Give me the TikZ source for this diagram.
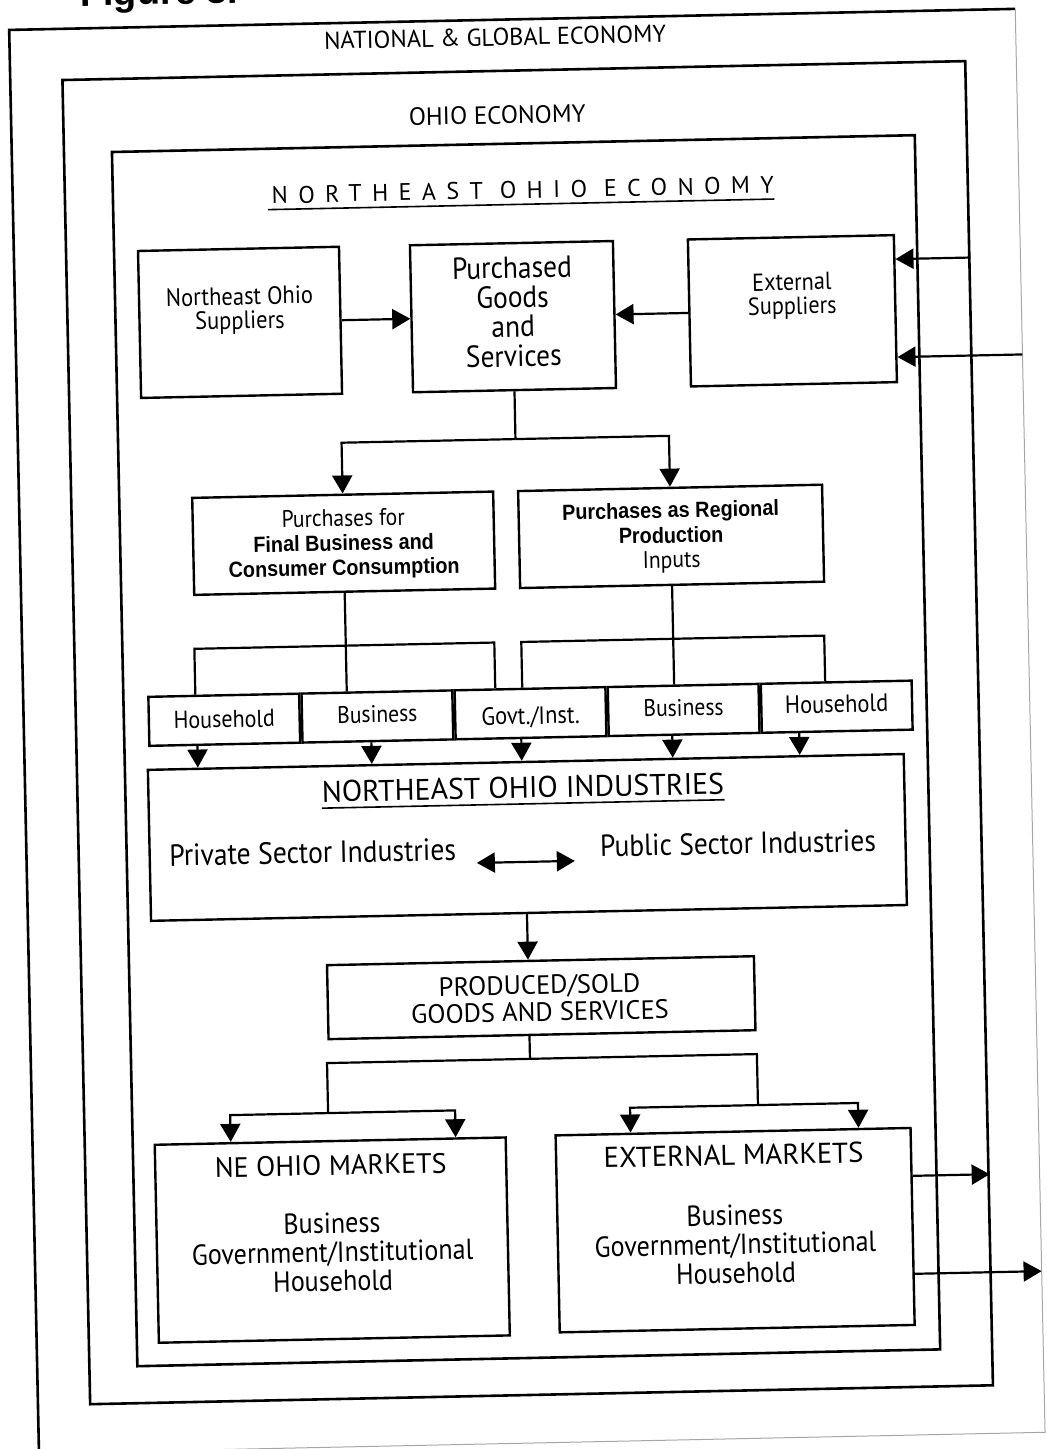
\documentclass[tikz,border=0pt]{standalone}
\usepackage{fontspec}
\usetikzlibrary{arrows.meta,calc}
\newfontfamily\hum{PT Sans}[FakeStretch=0.9]
\newfontfamily\humw{PT Sans}
\newfontfamily\humls{PT Sans}[LetterSpace=43.5]
\newfontfamily\grot{Liberation Sans}[FakeStretch=0.9]
\newfontfamily\arial{Liberation Sans}
\newcommand\fs[2]{\fontsize{#1}{#2}\selectfont}
\begin{document}
\begin{tikzpicture}[x=1pt,y=-1pt,
  frame/.style={line width=2.6pt},
  faint/.style={line width=1pt,black!35},
  box/.style={draw,line width=2.4pt,inner sep=0pt},
  cell/.style={draw,line width=2.4pt,inner sep=0pt,minimum width=150.8pt,minimum height=49pt},
  lbl/.style={inner sep=0pt,align=center,anchor=base},
  link/.style={line width=2.2pt},
  arr/.style={link,-{Triangle[length=18pt,width=20pt]}},
  darr/.style={link,{Triangle[length=18pt,width=20pt]}-{Triangle[length=18pt,width=20pt]}},
  uline/.style={line width=1.6pt}]
\clip (0,0) rectangle (1047,1449);
\begin{scope}[rotate around={1.2:(523,724)},transform shape]

% page heading
\node[anchor=base west,inner sep=0pt,font=\arial\bfseries\fs{38}{40}] (fig) at (95,-3) {Figure 3.};

% nested economy frames
\node[minimum width=1006pt,minimum height=1423.5pt,inner sep=0pt] (natl) at (527,731.25) {};
\draw[frame] (natl.south west) -- (natl.north west) -- (natl.north east);
\draw[faint] (natl.north east) -- (natl.south east) -- (natl.south west);
\node[box,line width=2.6pt,minimum width=903pt,minimum height=1324.5pt] (ohio) at (527.5,732.75) {};
\node[box,line width=2.6pt,minimum width=803pt,minimum height=1214.5pt] (neo) at (525.5,750.75) {};

\node[lbl,font=\humw\fs{24.4}{26}] (natlT) at (509.4,45.3) {NATIONAL \& GLOBAL ECONOMY};
\node[lbl,font=\humw\fs{25}{26}] (ohioT) at (510,123.4) {OHIO ECONOMY};
\node[lbl,font=\humls\fs{24}{26}] (neoT) at (534,198.4) {NORTHEAST OHIO ECONOMY};
\draw[uline] ($(neoT.base west)+(-4,6)$) -- ($(neoT.base east)+(0,6)$);

% supply side
\node[box,minimum width=201pt,minimum height=147pt] (nesup) at (248.5,316.5) {};
\node[box,minimum width=203pt,minimum height=147pt] (purch) at (521.5,316.5) {};
\node[box,minimum width=206pt,minimum height=147pt] (extsup) at (801,316.5) {};
\node[lbl,font=\hum\fs{25}{24}] (nesupT) at (248.5,323) {Northeast Ohio\\Suppliers};
\node[lbl,font=\hum\fs{30.5}{29.5}] (purchT) at (521.5,366.5) {Purchased\\Goods\\and\\Services};
\node[lbl,font=\hum\fs{24.7}{24}] (extsupT) at (801,320) {External\\Suppliers};

\draw[arr] (nesup.east) -- (purch.west);
\draw[arr] (extsup.west) -- (purch.west -| purch.east);
\coordinate (inA) at (ohio.east |- 0,267);
\coordinate (inB) at (natl.east |- 0,365);
\draw[arr] (inA) -- (extsup.east |- inA);
\draw[arr] (inB) -- (extsup.east |- inB);

% split of purchases
\node[box,minimum width=301pt,minimum height=97pt] (final) at (347.5,539.5) {};
\node[box,minimum width=304pt,minimum height=97pt] (regional) at (675,539.5) {};
\coordinate (splitA) at (purch.south |- 0,439);
\draw[link] (purch.south) -- (splitA);
\draw[arr] (splitA) -| (final.north);
\draw[arr] (splitA) -| (regional.north);
\node[lbl,font=\hum\fs{24}{24.5}] (finalT) at (347.5,571.5)
  {Purchases for\\{\grot\bfseries\fs{22}{24.5}Final Business and}\\{\grot\bfseries\fs{22}{24.5}Consumer Consumption}};
\node[lbl,font=\grot\bfseries\fs{22}{25}] (regionalT) at (675,571)
  {Purchases as Regional\\Production\\{\hum\mdseries\fs{24}{25}Inputs}};

% purchasing sectors
\node[cell] (c1) at (224.4,713.5) {};
\node[cell,anchor=west] (c2) at (c1.east) {};
\node[cell,anchor=west] (c3) at (c2.east) {};
\node[cell,anchor=west] (c4) at (c3.east) {};
\node[cell,anchor=west] (c5) at (c4.east) {};
\node[lbl,font=\hum\fs{24.5}{25}] (c1T) at ($(c1.center)+(0,8)$) {Household};
\node[lbl,font=\hum\fs{24}{25}] (c2T) at ($(c2.center)+(0,6)$) {Business};
\node[lbl,font=\hum\fs{25}{25}] (c3T) at ($(c3.center)+(0,11)$) {Govt./Inst.};
\node[lbl,font=\hum\fs{24}{25}] (c4T) at ($(c4.center)+(0,6)$) {Business};
\node[lbl,font=\hum\fs{25}{25}] (c5T) at ($(c5.center)+(0,6)$) {Household};

\coordinate (bl) at (final.south |- 0,642);
\coordinate (br) at (regional.south |- 0,642);
\draw[link] (final.south) -- (final.south |- c2.north);
\draw[link] (c1.north -| 196,0) |- (bl) -| (c3.north -| 496,0);
\draw[link] (regional.south) -- (regional.south |- c4.north);
\draw[link] (c3.north -| 523,0) |- (br) -| (c5.north -| 826,0);

% industries
\node[box,minimum width=756pt,minimum height=151pt] (ind) at (525,837.5) {};
\foreach \xa/\cc in {197/c1,371/c2,521/c3,672/c4,799/c5}
  \draw[arr] (\cc.south -| \xa,0) -- (ind.north -| \xa,0);
\node[lbl,font=\humw\fs{29.8}{31}] (indT) at (521.6,798) {NORTHEAST OHIO INDUSTRIES};
\draw[uline] ($(indT.base west)+(0,6)$) -- ($(indT.base east)+(0,6)$);
\node[lbl,font=\hum\fs{30.7}{31}] (priv) at (310,858.7) {Private Sector Industries};
\node[lbl,font=\hum\fs{30.5}{31}] (publ) at (735.5,858.5) {Public Sector Industries};
\coordinate (dA) at (474,862);
\coordinate (dB) at (572,862);
\draw[darr] (dA) -- (dB);

% output
\node[box,minimum width=427pt,minimum height=74pt] (prod) at (535.5,998) {};
\draw[arr] (ind.south -| 523,0) -- (prod.north -| 523,0);
\node[lbl,font=\humw\fs{26.5}{27}] (prodT) at (534,1021.5) {PRODUCED/SOLD\\GOODS AND SERVICES};

\node[box,minimum width=351pt,minimum height=198pt] (nemk) at (321.5,1236) {};
\node[box,minimum width=355pt,minimum height=197pt] (extmk) at (724.5,1234.5) {};
\coordinate (splitB) at (prod.south -| 523,0);
\coordinate (busB) at (523,1059);
\draw[link] (splitB) -- (busB);
\coordinate (lk) at (320,1109);
\coordinate (rk) at (750,1110);
\draw[link] (busB) -| (lk);
\draw[link] (busB) -| (rk);
\draw[arr] (lk) -| (nemk.north -| 222,0);
\draw[arr] (lk) -| (nemk.north -| 447,0);
\draw[arr] (rk) -| (extmk.north -| 622,0);
\draw[arr] (rk) -| (extmk.north -| 850,0);

\node[lbl,font=\humw\fs{28}{28}] (nemkT) at (321.5,1171) {NE OHIO MARKETS};
\node[lbl,font=\hum\fs{29}{29}] (nemkL) at (321.5,1287) {Business\\Government/Institutional\\Household};
\node[lbl,font=\humw\fs{28.7}{28}] (extmkT) at (724.5,1169.5) {EXTERNAL MARKETS};
\node[lbl,font=\hum\fs{29}{29}] (extmkL) at (724.5,1287.5) {Business\\Government/Institutional\\Household};

\coordinate (outA) at (ohio.east |- 0,1184);
\coordinate (outB) at (natl.east |- 0,1282);
\draw[arr] (extmk.east |- outA) -- (outA);
\draw[arr] (extmk.east |- outB) -- (outB);
\end{scope}
\end{tikzpicture}
\end{document}
